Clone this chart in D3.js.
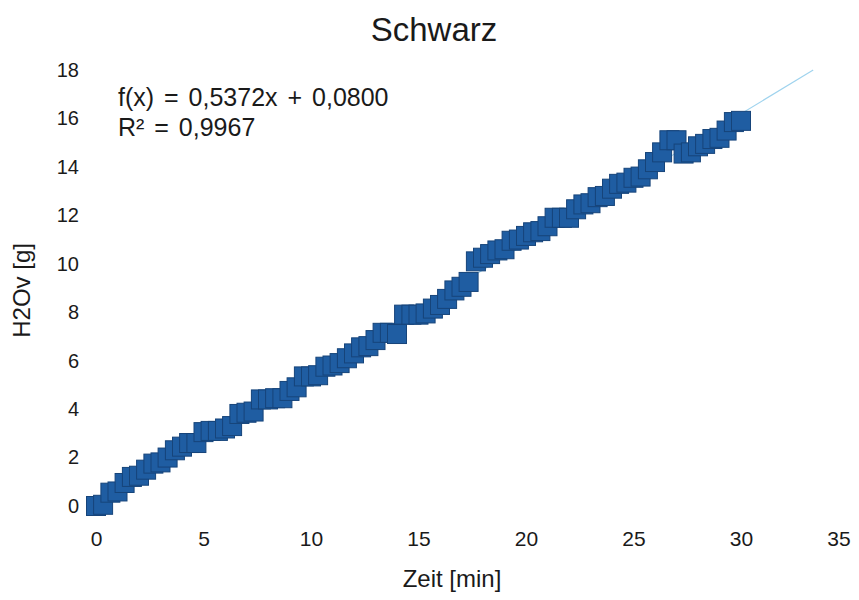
<!DOCTYPE html>
<html>
<head>
<meta charset="utf-8">
<script src="https://cdn.jsdelivr.net/npm/d3@7"></script>
<style>
  html, body { margin: 0; padding: 0; background: #ffffff; }
  svg { display: block; }
  text { font-family: "Liberation Sans", Arial, sans-serif; fill: #1a1a1a; }
</style>
</head>
<body>
<svg id="chart" width="859" height="600"></svg>
<script>
// Measurement readings: time in minutes, water vapour mass in grams
const zeit = [
  0.00, 0.33, 0.67, 1.00, 1.33, 1.67, 2.00, 2.33, 2.67, 3.00,
  3.33, 3.67, 4.00, 4.33, 4.67, 5.00, 5.33, 5.67, 6.00, 6.33,
  6.67, 7.00, 7.33, 7.67, 8.00, 8.33, 8.67, 9.00, 9.33, 9.67,
  10.00, 10.33, 10.67, 11.00, 11.33, 11.67, 12.00, 12.33, 12.67, 13.00,
  13.33, 13.67, 14.00, 14.33, 14.67, 15.00, 15.33, 15.67, 16.00, 16.33,
  16.67, 17.00, 17.33, 17.67, 18.00, 18.33, 18.67, 19.00, 19.33, 19.67,
  20.00, 20.33, 20.67, 21.00, 21.33, 21.67, 22.00, 22.33, 22.67, 23.00,
  23.33, 23.67, 24.00, 24.33, 24.67, 25.00, 25.33, 25.67, 26.00, 26.33,
  26.67, 27.00, 27.33, 27.67, 28.00, 28.33, 28.67, 29.00, 29.33, 29.67,
  30.00
];
const h2ov = [
  0.00, 0.05, 0.55, 0.60, 0.95, 1.20, 1.25, 1.50, 1.75, 1.80,
  2.00, 2.30, 2.45, 2.60, 2.60, 3.05, 3.10, 3.10, 3.20, 3.30,
  3.80, 3.85, 3.90, 4.40, 4.40, 4.45, 4.45, 4.75, 4.90, 5.35,
  5.35, 5.40, 5.75, 5.80, 5.90, 6.10, 6.30, 6.55, 6.60, 6.85,
  7.15, 7.15, 7.10, 7.90, 7.90, 7.90, 7.95, 8.15, 8.30, 8.55,
  8.90, 9.05, 9.25, 10.10, 10.25, 10.40, 10.55, 10.60, 10.95, 11.00,
  11.15, 11.30, 11.35, 11.55, 11.90, 11.90, 11.90, 12.25, 12.45, 12.50,
  12.75, 12.80, 13.10, 13.30, 13.35, 13.55, 13.60, 13.90, 14.20, 14.60,
  15.10, 15.10, 14.55, 14.60, 14.85, 14.95, 15.15, 15.20, 15.50, 15.85,
  15.90
];

// Linear regression reported for the series
const slope = 0.5372;
const intercept = 0.0800;
const rSquared = 0.9967;

const xTicks = [0, 5, 10, 15, 20, 25, 30, 35];
const yTicks = [0, 2, 4, 6, 8, 10, 12, 14, 16, 18];

const titleText = "Schwarz";
const xTitle = "Zeit [min]";
const yTitle = "H2Ov [g]";

const fmt = v => v.toFixed(4).replace(".", ",");

const svg = d3.select("#chart");

const x = d3.scaleLinear().domain([0, 35]).range([96, 848.5]);
const y = d3.scaleLinear().domain([0, 18]).range([506, 70]);

// Title
svg.append("text")
  .attr("x", 434).attr("y", 41)
  .attr("text-anchor", "middle")
  .style("font-size", "33px")
  .text(titleText);

// Axes (labels only, no lines)
const xAxis = svg.append("g")
  .attr("transform", `translate(0,${y(0)})`)
  .call(d3.axisBottom(x).tickValues(xTicks).tickSize(0).tickPadding(25).tickFormat(d3.format("d")));
xAxis.select(".domain").remove();
xAxis.selectAll("text")
  .style("font-size", "21px")
  .style("font-family", "'Liberation Sans', Arial, sans-serif")
  .attr("fill", "#1a1a1a")
  .attr("dx", d => d === 35 ? -10 : 0);

const yAxis = svg.append("g")
  .attr("transform", `translate(${x(0)},0)`)
  .call(d3.axisLeft(y).tickValues(yTicks).tickSize(0).tickPadding(17).tickFormat(d3.format("d")));
yAxis.select(".domain").remove();
yAxis.selectAll("text")
  .style("font-size", "20px")
  .style("font-family", "'Liberation Sans', Arial, sans-serif")
  .attr("fill", "#1a1a1a");

// Axis titles
svg.append("text")
  .attr("x", 452).attr("y", 587)
  .attr("text-anchor", "middle")
  .style("font-size", "24px")
  .text(xTitle);

svg.append("text")
  .attr("transform", `translate(30,${y(8.9)}) rotate(-90)`)
  .attr("text-anchor", "middle")
  .style("font-size", "24px")
  .text(yTitle);

// Trend line, clipped to the top of the value range
const xEnd = (18 - intercept) / slope;
svg.append("line")
  .attr("x1", x(0)).attr("y1", y(intercept))
  .attr("x2", x(xEnd)).attr("y2", y(slope * xEnd + intercept))
  .attr("stroke", "#9fd3ee")
  .attr("stroke-width", 1.1);

// Square markers
const m = 19;
svg.append("g")
  .selectAll("rect")
  .data(zeit.map((t, i) => ({ t, v: h2ov[i] })))
  .join("rect")
  .attr("x", d => x(d.t) - m / 2)
  .attr("y", d => y(d.v) - m / 2)
  .attr("width", m)
  .attr("height", m)
  .attr("fill", "#1f5da2")
  .attr("stroke", "#16447a")
  .attr("stroke-width", 1);

// Regression equation
const eq = svg.append("g")
  .style("font-size", "25px")
  .style("word-spacing", "3px");
eq.append("text")
  .attr("x", 118).attr("y", 106)
  .text(`f(x) = ${fmt(slope)}x + ${fmt(intercept)}`);
eq.append("text")
  .attr("x", 118).attr("y", 136)
  .text(`R² = ${fmt(rSquared)}`);
</script>
</body>
</html>
